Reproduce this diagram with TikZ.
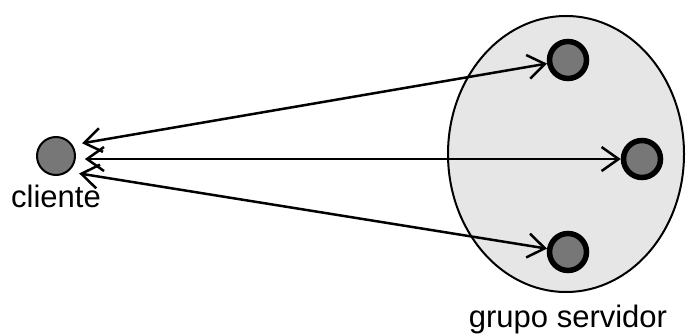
\documentclass[tikz,border=0pt]{standalone}
\usepackage{fontspec}
\setmainfont{Liberation Sans}
\usetikzlibrary{
    positioning,
    arrows.meta,
    shapes.geometric
}
\definecolor{nodo_gris}{RGB}{119,119,119}
\definecolor{grupo_fondo}{RGB}{230,230,230}

\begin{document}
\begin{tikzpicture}[
      x=1pt, y=-1pt,
      >={Straight Barb[length=17pt, width=24pt, line width=2.5pt]},
      cli/.style ={circle, draw, line width=2pt, fill=nodo_gris, minimum size=38pt, inner sep=0pt, outer sep=10pt},
      srv/.style ={circle, draw, line width=5.5pt, fill=nodo_gris, minimum size=37pt, inner sep=0pt},
      grp/.style ={ellipse, draw, line width=2pt, fill=grupo_fondo, minimum width=236pt, minimum height=276pt, inner sep=0pt},
      lbl/.style ={font=\fontsize{31}{37}\selectfont, anchor=base},
      msg/.style ={<->, line width=2.5pt}
    ]
    \useasboundingbox (0,0) rectangle (687,336);

    % --- Grupo servidor ---
    \node[grp] (grupo) at (566,154) {};
    \node[srv] (srv_a) at (568,60)  {};
    \node[srv] (srv_b) at (642,159) {};
    \node[srv] (srv_c) at (568,252) {};
    \node[lbl] (lbl_grupo) at (568,327) {grupo servidor};

    % --- Cliente ---
    \node[cli] (cliente) at (56,156) {};
    \node[lbl] (lbl_cliente) at (56,208) {cliente};

    % --- Mensajes cliente <-> servidores ---
    \draw[msg] (cliente.26)  -- (srv_a);
    \draw[msg] (cliente.-6)  -- (srv_b.west |- cliente.-6);
    \draw[msg] (cliente.-37) -- (srv_c);

  \end{tikzpicture}
\end{document}
